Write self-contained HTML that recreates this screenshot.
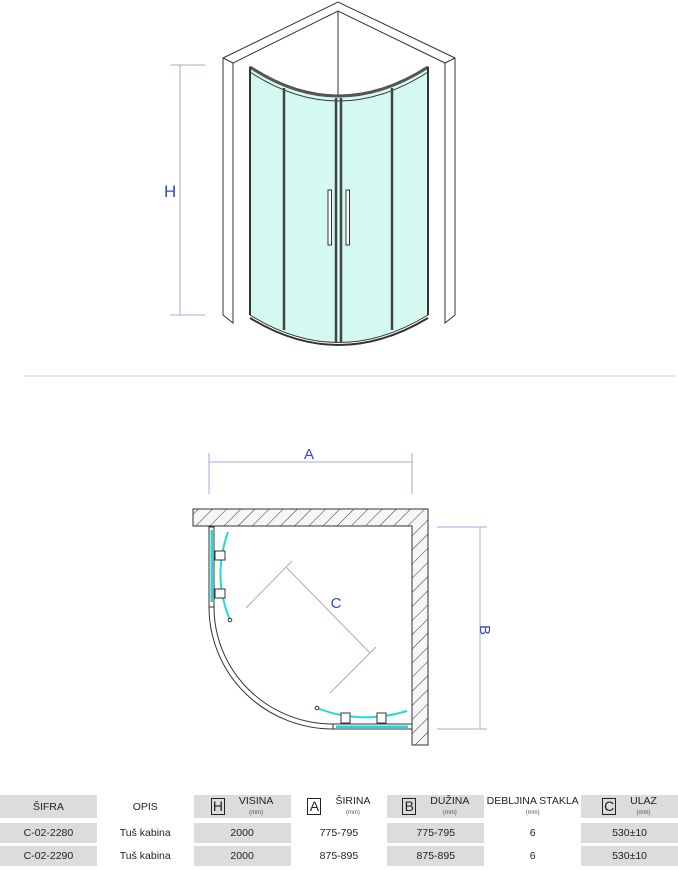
<!DOCTYPE html>
<html><head><meta charset="utf-8"><style>
html,body{margin:0;padding:0;background:#fff;width:678px;height:870px;overflow:hidden}
svg{position:absolute;left:0;top:0}
table{position:absolute;left:0;top:795px;border-collapse:separate;border-spacing:0;font-family:"Liberation Sans",sans-serif;font-size:10.5px;color:#222}
td{width:97px;text-align:center;padding:0;position:relative}
.g{background:#dcdcdc}
.hd td{height:23px;line-height:10px}
.gap td{height:5px;background:#fff}
.r td{height:20px;border-bottom:3px solid #fff}
.bx{display:inline-block;border:1px solid #222;font-size:14px;line-height:15px;width:12px;height:15px;vertical-align:middle;margin-right:14px}
.sm{font-size:6px;color:#555}
.lab{display:inline-block;vertical-align:middle;text-align:center}
</style></head><body>
<svg width="678" height="870" viewBox="0 0 678 870">
<defs>
<pattern id="h" width="10" height="10" patternUnits="userSpaceOnUse" patternTransform="rotate(45)">
<rect width="10" height="10" fill="#f6f6f6"/><line x1="0" y1="0" x2="0" y2="10" stroke="#333" stroke-width="1"/>
</pattern>
</defs>
<g fill="none" stroke="#333" stroke-width="1">
<path d="M223,58 L338,2 L455,58 L455,315 L445,323 L445,63 L338,11 L233,63 L233,323 L223,315 Z" fill="#fff"/>
<line x1="338" y1="11" x2="338" y2="97"/>
<line x1="223" y1="58" x2="233" y2="63"/>
<line x1="455" y1="58" x2="445" y2="63"/>
<path d="M250,67 Q338,125 428,67 L428,315 Q338,370 250,315 Z" fill="#d4f9f1" stroke="#333"/>
<path d="M250,67 Q338,125 428,67" stroke-width="3" stroke="#555"/>
<path d="M250,72 Q338,130 428,72" stroke-width="1"/>
<path d="M250,318 Q338,372 428,318" stroke-width="2"/>
<line x1="284" y1="88" x2="284" y2="330" stroke-width="2.5" stroke="#444"/>
<line x1="336" y1="98" x2="336" y2="342" stroke-width="2.5" stroke="#444"/>
<line x1="341" y1="98" x2="341" y2="342" stroke-width="2.5" stroke="#444"/>
<line x1="392" y1="88" x2="392" y2="330" stroke-width="2.5" stroke="#444"/>
<rect x="328" y="190" width="3.5" height="55" fill="#fff"/>
<rect x="346" y="190" width="3.5" height="55" fill="#fff"/>
<line x1="250" y1="67" x2="250" y2="315" stroke-width="2"/>
<line x1="428" y1="67" x2="428" y2="315" stroke-width="2"/>
</g>
<g stroke="#a8a8d8" stroke-width="1">
<line x1="180" y1="65" x2="180" y2="315"/>
<line x1="170" y1="65" x2="205" y2="65"/>
<line x1="170" y1="315" x2="205" y2="315"/>
<line x1="25" y1="376" x2="675" y2="376" stroke="#c8cce0"/>
<line x1="209" y1="462" x2="412" y2="462"/>
<line x1="209" y1="453" x2="209" y2="494"/>
<line x1="412" y1="453" x2="412" y2="494"/>
<line x1="480" y1="527" x2="480" y2="729"/>
<line x1="437" y1="527" x2="487" y2="527"/>
<line x1="437" y1="729" x2="487" y2="729"/>
<line x1="286" y1="567" x2="370" y2="653"/>
<line x1="292" y1="561" x2="246" y2="608"/>
<line x1="376" y1="647" x2="330" y2="693"/>
</g>
<text x="164" y="197" font-family="Liberation Sans,sans-serif" font-size="17" fill="#3448d0">H</text>
<text x="304" y="459" font-family="Liberation Sans,sans-serif" font-size="15" fill="#3448d0">A</text>
<text x="480" y="630" font-family="Liberation Sans,sans-serif" font-size="15" fill="#3448d0" transform="rotate(90 480 630)" text-anchor="middle">B</text>
<text x="336" y="608" font-family="Liberation Sans,sans-serif" font-size="15" fill="#3448d0" text-anchor="middle">C</text>
<path d="M193,509 L428,509 L428,745 L412,745 L412,526 L193,526 Z" fill="url(#h)" stroke="#333"/>
<g fill="none" stroke="#333">
<path d="M209,607 A124,122 0 0 0 333,729"/>
<path d="M214,607 A119,117 0 0 0 333,724"/>
<rect x="209" y="527" width="5" height="80" fill="#fff"/>
<rect x="333" y="724" width="79" height="5" fill="#fff"/>
</g>
<rect x="210.5" y="530" width="2.5" height="72" fill="#22d8d8"/>
<rect x="336" y="725.5" width="72" height="2.5" fill="#22d8d8"/>
<path d="M228,532 Q212,577 230,620" fill="none" stroke="#22d8d8" stroke-width="2"/>
<path d="M317,708 Q360,725 407,711" fill="none" stroke="#22d8d8" stroke-width="2"/>
<circle cx="230" cy="620" r="1.8" fill="#fff" stroke="#333"/>
<circle cx="317" cy="708" r="1.8" fill="#fff" stroke="#333"/>
<g fill="#fff" stroke="#333" stroke-width="1">
<rect x="215" y="551" width="10" height="9"/><rect x="215" y="589" width="10" height="9"/>
<rect x="341" y="713" width="9" height="10"/><rect x="377" y="713" width="9" height="10"/>
</g>
</svg>
<table>
<tr class="hd"><td class="g">ŠIFRA</td><td>OPIS</td><td class="g"><span class="bx">H</span><span class="lab">VISINA<br><span class="sm">(mm)</span></span></td><td><span class="bx">A</span><span class="lab">ŠIRINA<br><span class="sm">(mm)</span></span></td><td class="g"><span class="bx">B</span><span class="lab">DUŽINA<br><span class="sm">(mm)</span></span></td><td><span class="lab">DEBLJINA STAKLA<br><span class="sm">(mm)</span></span></td><td class="g"><span class="bx">C</span><span class="lab">ULAZ<br><span class="sm">(mm)</span></span></td></tr>
<tr class="gap"><td></td><td></td><td></td><td></td><td></td><td></td><td></td></tr>
<tr class="r"><td class="g">C-02-2280</td><td>Tuš kabina</td><td class="g">2000</td><td>775-795</td><td class="g">775-795</td><td>6</td><td class="g">530±10</td></tr>
<tr class="r"><td class="g">C-02-2290</td><td>Tuš kabina</td><td class="g">2000</td><td>875-895</td><td class="g">875-895</td><td>6</td><td class="g">530±10</td></tr>
</table>
</body></html>
